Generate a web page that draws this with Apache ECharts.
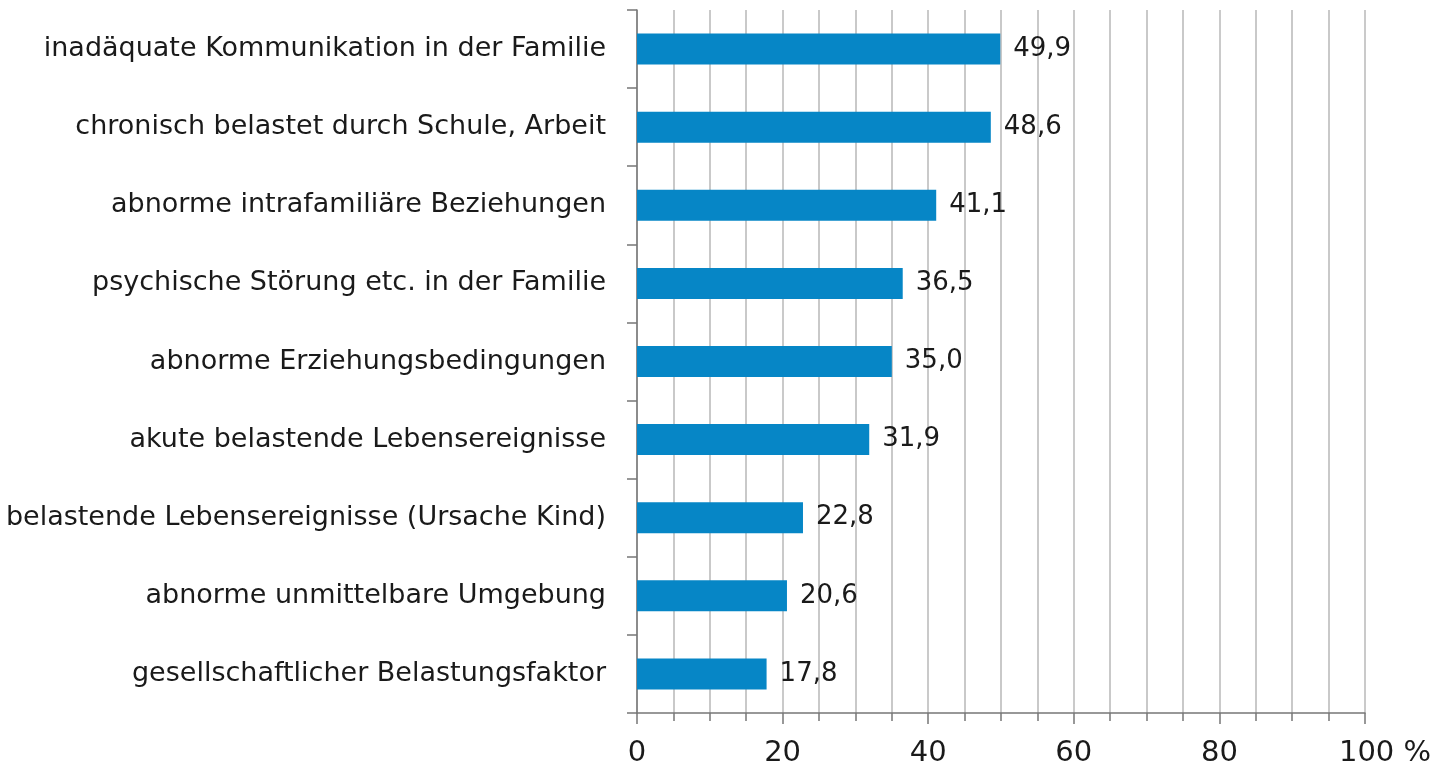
<!DOCTYPE html>
<html>
<head>
<meta charset="utf-8">
<script src="https://cdn.jsdelivr.net/npm/echarts@6/dist/echarts.min.js"></script>
<style>
  html, body { margin: 0; padding: 0; background: #fff; }
  #chart { width: 1435px; height: 766px; }
</style>
</head>
<body>
<div id="chart"></div>
<script>
var categories = [
    'inadäquate Kommunikation in der Familie',
    'chronisch belastet durch Schule, Arbeit',
    'abnorme intrafamiliäre Beziehungen',
    'psychische Störung etc. in der Familie',
    'abnorme Erziehungsbedingungen',
    'akute belastende Lebensereignisse',
    'belastende Lebensereignisse (Ursache Kind)',
    'abnorme unmittelbare Umgebung',
    'gesellschaftlicher Belastungsfaktor'
];
var values = [49.9, 48.6, 41.1, 36.5, 35.0, 31.9, 22.8, 20.6, 17.8];
var tickLabels = { 0: '0', 20: '20', 40: '40', 60: '60', 80: '80', 100: '{pct|100 %}' };

var chart = echarts.init(document.getElementById('chart'));
var font = '"DejaVu Sans", sans-serif';

var option = {
    animation: false,
    grid: {
        left: 637,
        right: 70,
        top: 10,
        bottom: 53,
        containLabel: false,
        outerBoundsMode: 'none'
    },
    xAxis: {
        type: 'value',
        min: 0,
        max: 100,
        interval: 20,
        axisLine: { show: true, lineStyle: { color: '#777', width: 1.5 } },
        axisTick: { show: true, length: 11, lineStyle: { color: '#777', width: 1.5 } },
        minorTick: { show: true, splitNumber: 4, length: 8, lineStyle: { color: '#777', width: 1.5 } },
        splitLine: { show: true, lineStyle: { color: '#b8b8b8', width: 1.5 } },
        minorSplitLine: { show: true, lineStyle: { color: '#b8b8b8', width: 1.5 } },
        axisLabel: {
            margin: 26,
            fontSize: 29,
            fontFamily: font,
            color: '#1a1a1a',
            formatter: function (v) { return tickLabels[v]; },
            rich: {
                pct: { fontSize: 29, fontFamily: font, color: '#1a1a1a', padding: [0, 0, 0, 40] }
            }
        }
    },
    yAxis: {
        type: 'category',
        inverse: true,
        data: categories,
        axisLine: { show: true, lineStyle: { color: '#777', width: 1.5 } },
        axisTick: { show: true, length: 10, lineStyle: { color: '#777', width: 1.5 } },
        axisLabel: {
            margin: 31,
            fontSize: 27,
            fontFamily: font,
            color: '#1a1a1a'
        }
    },
    series: [{
        type: 'bar',
        data: values,
        barWidth: 31,
        itemStyle: { color: '#0686c6' },
        label: {
            show: true,
            position: 'right',
            distance: 13,
            fontSize: 26,
            fontFamily: font,
            color: '#1a1a1a',
            formatter: function (p) { return p.value.toFixed(1).replace('.', ','); }
        }
    }]
};

chart.setOption(option);
</script>
</body>
</html>
